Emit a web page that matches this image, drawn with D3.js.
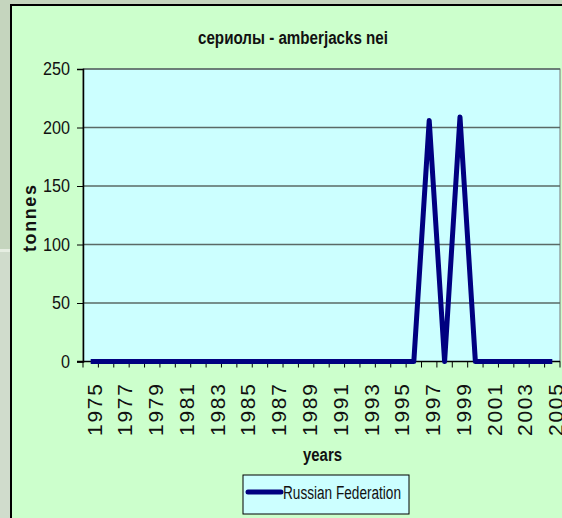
<!DOCTYPE html>
<html>
<head>
  <meta charset="utf-8">
  <title>сериолы - amberjacks nei</title>
  <script src="https://d3js.org/d3.v7.min.js"></script>
  <style>
    body { margin: 0; }
    text { font-family: "Liberation Sans Narrow", "Arial Narrow", "Liberation Sans", sans-serif; fill: #111; }
    .bold { font-weight: bold; }
  </style>
</head>
<body>
  <script>
    var width = 562,
        height = 518;

    var years = d3.range(1975, 2006);
    var tonnes = [0, 0, 0, 0, 0, 0, 0, 0, 0, 0,
                  0, 0, 0, 0, 0, 0, 0, 0, 0, 0,
                  0, 0, 206, 0, 209, 0, 0, 0, 0, 0, 0];
    var yTicks = [0, 50, 100, 150, 200, 250];
    var seriesName = "Russian Federation";

    var svg = d3.select("body").append("svg")
        .attr("width", width)
        .attr("height", height);

    // outer slide background
    svg.append("rect").attr("width", width).attr("height", 250).attr("fill", "#c5d5be");
    svg.append("rect").attr("y", 250).attr("width", width).attr("height", height - 250).attr("fill", "#d0dccc");
    svg.append("rect").attr("y", 249).attr("width", 12).attr("height", 3).attr("fill", "#e6eee2");

    // chart area
    svg.append("rect")
        .attr("x", 11).attr("y", 5)
        .attr("width", width).attr("height", height)
        .attr("fill", "#ccffcc")
        .attr("stroke", "#000").attr("stroke-width", 2);

    var plot = {left: 83, right: 560, top: 69, bottom: 361.5};

    var x = d3.scaleBand().domain(years).range([plot.left, plot.right]);
    var y = d3.scaleLinear().domain([0, 250]).range([plot.bottom, plot.top]);

    svg.append("rect")
        .attr("x", plot.left).attr("y", plot.top)
        .attr("width", plot.right - plot.left).attr("height", plot.bottom - plot.top)
        .attr("fill", "#ccffff")
        .attr("stroke", "#777").attr("stroke-width", 1);

    // gridlines
    svg.selectAll(".grid")
        .data(yTicks.filter(function(d) { return d > 0; }))
        .enter().append("line")
        .attr("x1", plot.left).attr("x2", plot.right)
        .attr("y1", function(d) { return y(d); })
        .attr("y2", function(d) { return y(d); })
        .attr("stroke", "#5a6a66").attr("stroke-width", 1.5);

    // y axis
    var yAxis = svg.append("g")
        .attr("transform", "translate(" + plot.left + ",0)")
        .call(d3.axisLeft(y).tickValues(yTicks).tickSize(6).tickPadding(7));
    yAxis.select(".domain").attr("stroke", "#000").attr("stroke-width", 1.5);
    yAxis.selectAll(".tick line").attr("stroke", "#000");
    yAxis.selectAll(".tick text")
        .style("font-size", "18px").style("font-family", null)
        .attr("fill", "#111")
        .attr("textLength", function(d) { return String(d).length * 9; })
        .attr("lengthAdjust", "spacingAndGlyphs");

    // x axis line and ticks between categories
    svg.append("line")
        .attr("x1", plot.left - 6).attr("x2", plot.right)
        .attr("y1", plot.bottom).attr("y2", plot.bottom)
        .attr("stroke", "#000").attr("stroke-width", 1.5);

    var bounds = years.map(function(d) { return x(d); }).concat([plot.right]);
    svg.selectAll(".xtick")
        .data(bounds)
        .enter().append("line")
        .attr("x1", function(d) { return d; }).attr("x2", function(d) { return d; })
        .attr("y1", plot.bottom).attr("y2", plot.bottom + 6)
        .attr("stroke", "#000");

    svg.selectAll(".xlabel")
        .data(years.filter(function(d, i) { return i % 2 === 0; }))
        .enter().append("text")
        .attr("transform", function(d) {
          return "translate(" + (x(d) + x.bandwidth() / 2 + 3.5) + "," + 384 + ") rotate(-90)";
        })
        .attr("text-anchor", "end")
        .attr("dy", "0.35em")
        .attr("textLength", 52)
        .attr("lengthAdjust", "spacing")
        .style("font-size", "21px")
        .text(function(d) { return d; });

    // series line
    var line = d3.line()
        .x(function(d, i) { return x(years[i]) + x.bandwidth() / 2; })
        .y(function(d) { return y(d); });

    svg.append("path")
        .datum(tonnes)
        .attr("d", line)
        .attr("fill", "none")
        .attr("stroke", "#000080")
        .attr("stroke-width", 5)
        .attr("stroke-linejoin", "round");

    // titles
    svg.append("text")
        .attr("class", "bold")
        .attr("x", 198).attr("y", 44)
        .attr("textLength", 190)
        .attr("lengthAdjust", "spacingAndGlyphs")
        .style("font-size", "18px")
        .text("сериолы - amberjacks nei");

    svg.append("text")
        .attr("class", "bold")
        .attr("x", 303).attr("y", 461)
        .attr("textLength", 39)
        .attr("lengthAdjust", "spacingAndGlyphs")
        .style("font-size", "18px")
        .text("years");

    svg.append("text")
        .attr("class", "bold")
        .attr("transform", "translate(36,252) rotate(-90)")
        .attr("textLength", 67)
        .attr("lengthAdjust", "spacing")
        .style("font-size", "18px")
        .text("tonnes");

    // legend
    var legend = svg.append("g").attr("transform", "translate(243,475)");
    legend.append("rect")
        .attr("width", 166).attr("height", 39)
        .attr("fill", "#ccffff")
        .attr("stroke", "#000").attr("stroke-width", 1);
    legend.append("line")
        .attr("x1", 5).attr("x2", 38).attr("y1", 17).attr("y2", 17)
        .attr("stroke", "#000080").attr("stroke-width", 5)
        .attr("stroke-linecap", "round");
    legend.append("text")
        .attr("x", 40).attr("y", 24)
        .attr("textLength", 118)
        .attr("lengthAdjust", "spacingAndGlyphs")
        .style("font-size", "18px")
        .text(seriesName);
  </script>
</body>
</html>
